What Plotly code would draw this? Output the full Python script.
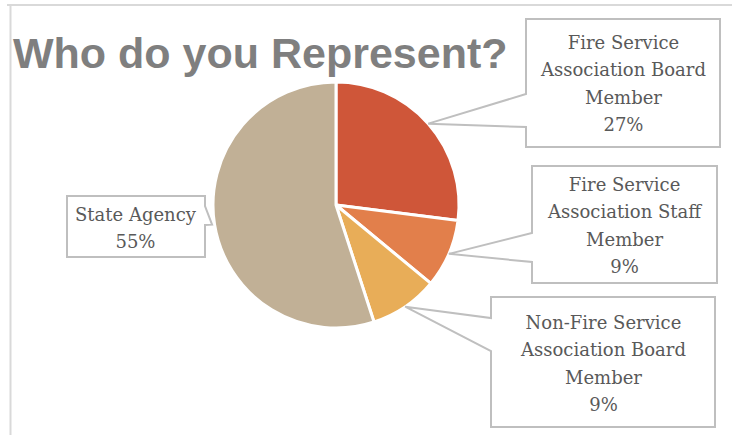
import math
import plotly.graph_objects as go

# Survey responses: "Who do you Represent?"
categories = [
    "Fire Service Association Board Member",
    "Fire Service Association Staff Member",
    "Non-Fire Service Association Board Member",
    "State Agency",
]
values = [27, 9, 9, 55]
label_lines = [
    ["Fire Service", "Association Board", "Member"],
    ["Fire Service", "Association Staff", "Member"],
    ["Non-Fire Service", "Association Board", "Member"],
    ["State Agency"],
]
slice_colors = ["#cf5639", "#e27f4b", "#e8ad58", "#c1b096"]

W, H = 732, 435

# pie placement in pixels
cx, cy, R = 336, 205, 123

def px(x):
    return x / W

def py(y):
    return 1 - y / H

# callout boxes: (x0, y0, x1, y1), side the pointer leaves from, pointer base, tip radius factor
callouts = [
    dict(box=(526, 19, 720, 147), side="left", base=(94, 127), k=1.0),
    dict(box=(532, 166, 717, 283), side="left", base=(233, 262), k=1.0),
    dict(box=(491, 297, 715, 427), side="left", base=(318, 351), k=1.0),
    dict(box=(67, 196, 205, 257), side="right", base=(206, 225), k=1.02),
]

LABEL_FONT = "DejaVu Serif"
GLYPH_SIZE = 18   # visible text size
LINE_SIZE = 21    # sets the line pitch (1.3 x size)

fig = go.Figure()
fig.add_trace(go.Pie(
    labels=categories,
    values=values,
    sort=False,
    direction="clockwise",
    rotation=0,
    textinfo="none",
    hoverinfo="label+percent",
    marker=dict(colors=slice_colors, line=dict(color="white", width=3)),
    domain=dict(x=[px(cx - R), px(cx + R)], y=[py(cy + R), py(cy - R)]),
    showlegend=False,
))

shapes = []
annotations = []

# chart frame (top and left edges)
frame = dict(color="#d9d9d9", width=2)
shapes.append(dict(type="line", xref="paper", yref="paper",
                   x0=px(7), x1=px(W), y0=py(5), y1=py(5), line=frame))
shapes.append(dict(type="line", xref="paper", yref="paper",
                   x0=px(10.5), x1=px(10.5), y0=py(5), y1=py(H), line=frame))

total = sum(values)
cum = 0
for v, lines, c in zip(values, label_lines, callouts):
    mid = (cum + v / 2) / total * 2 * math.pi
    cum += v
    tx = cx + R * c["k"] * math.sin(mid)
    ty = cy - R * c["k"] * math.cos(mid)
    x0, y0, x1, y1 = c["box"]
    b0, b1 = c["base"]
    if c["side"] == "left":
        pts = [(x0, y0), (x1, y0), (x1, y1), (x0, y1), (x0, b1), (tx, ty), (x0, b0)]
    else:
        pts = [(x0, y0), (x1, y0), (x1, b0), (tx, ty), (x1, b1), (x1, y1), (x0, y1)]
    path = "M " + " L ".join(f"{px(a):.5f},{py(b):.5f}" for a, b in pts) + " Z"
    shapes.append(dict(type="path", xref="paper", yref="paper", path=path,
                       fillcolor="white", line=dict(color="#bfbfbf", width=2),
                       layer="above"))
    text = "<br>".join(
        f'<span style="font-size:{GLYPH_SIZE}px">{t}</span>'
        for t in lines + [f"{v}%"]
    )
    annotations.append(dict(
        x=px((x0 + x1) / 2), y=py((y0 + y1) / 2 + 1), xref="paper", yref="paper",
        text=text, showarrow=False, xanchor="center", yanchor="middle",
        align="center",
        font=dict(family=LABEL_FONT, size=LINE_SIZE, color="#595959"),
    ))

annotations.append(dict(
    x=px(11), y=py(53), xref="paper", yref="paper",
    text="Who do you Represent?", showarrow=False,
    xanchor="left", yanchor="middle",
    font=dict(family="Liberation Sans", size=43, color="#7f7f7f", weight="bold"),
))

fig.update_layout(
    width=W, height=H,
    margin=dict(l=0, r=0, t=0, b=0),
    paper_bgcolor="white",
    plot_bgcolor="white",
    shapes=shapes,
    annotations=annotations,
)

fig.write_html("out.html")
